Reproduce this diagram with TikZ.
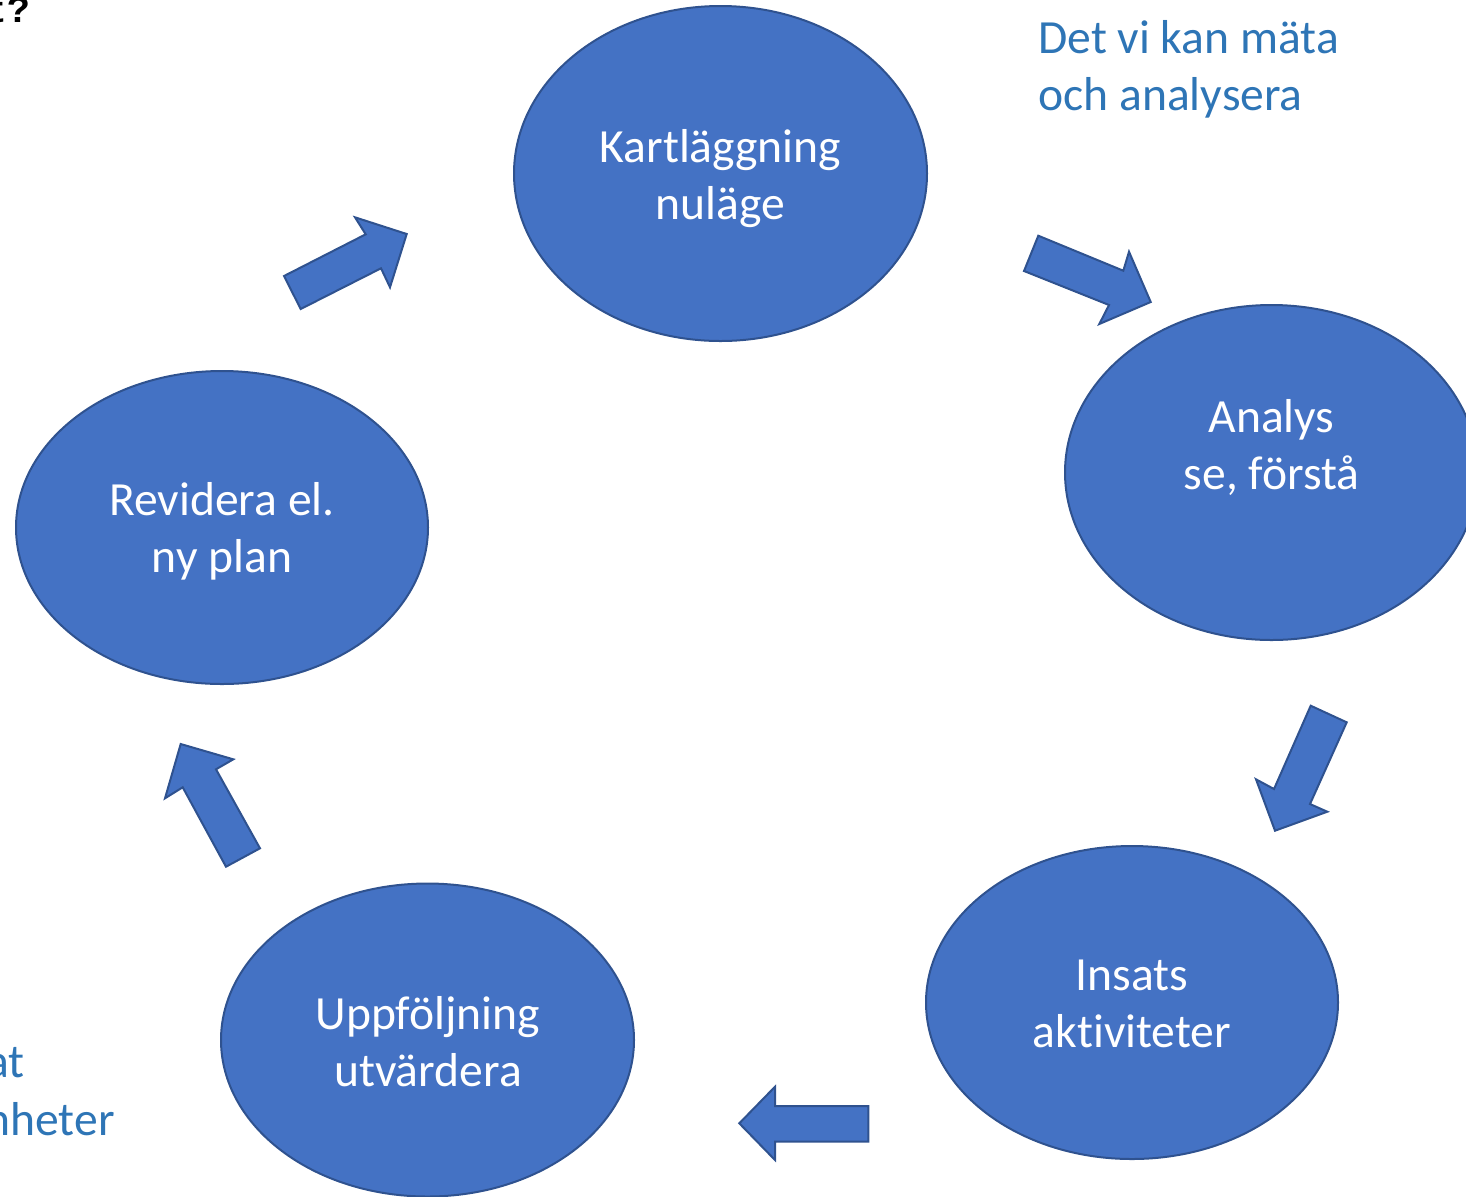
\documentclass[tikz,border=0pt]{standalone}
\usepackage{fontspec}
\setmainfont{Carlito}[RawFeature={-liga;-clig;-calt;-dlig}]
\newfontfamily\monofnt{Liberation Mono}
\usetikzlibrary{shapes.geometric}
\definecolor{bfill}{HTML}{4472C4}
\definecolor{bline}{HTML}{2F528F}
\definecolor{btext}{HTML}{2E75B6}
\tikzset{
  bubble/.style={ellipse, fill=bfill, draw=bline, line width=1pt, inner sep=0pt},
  intext/.style={text=white, align=center, font=\fontsize{23.8}{28.5}\selectfont, inner sep=0pt},
  note/.style={text=btext, align=left, font=\fontsize{23.8}{28.5}\selectfont, inner sep=0pt},
  blockarrow/.style={fill=bfill, draw=bline, line width=1pt, line join=miter}
}
\begin{document}
\begin{tikzpicture}[x=0.5pt,y=-0.5pt]
\useasboundingbox (0,0) rectangle (1466,1196);
% ellipses
\node[bubble, minimum width=206.5pt, minimum height=167.5pt] (kart) at (720.5,173.5) {};
\node[bubble, minimum width=206.5pt, minimum height=167.5pt] (anal) at (1271.5,472.5) {};
\node[bubble, minimum width=206pt, minimum height=156.5pt] (insa) at (1132,1002.5) {};
\node[bubble, minimum width=206.5pt, minimum height=156.5pt] (uppf) at (427.5,1040) {};
\node[bubble, minimum width=206pt, minimum height=156.5pt] (revi) at (222,527.5) {};
% texts in ellipses
\node[intext] (tkart) at (720.5,179) {Kartläggning\\nuläge};
\node[intext] (tanal) at (1271.5,448) {Analys\\se, förstå};
\node[intext] (tinsa) at (1132,1004) {Insats\\akt\kern0pt iviteter};
\node[intext] (tuppf) at (428,1042) {Uppföljning\\utvärdera};
\node[intext] (trevi) at (222,531) {Revidera el.\\ny plan};
% notes
\node[note, anchor=north west] (nmat) at (1038,20) {Det vi kan mäta\\och analysera};
\node[note, anchor=base east] (nat) at (25,1077) {at};
\node[note, anchor=base east] (nhet) at (115,1135) {nheter};
\node[anchor=base east, inner sep=0pt, font=\monofnt\bfseries\fontsize{19}{22}\selectfont] (tq) at (31,22) {t?};
% block arrows
\draw[blockarrow] (284,276) -- (365.7,234.3) -- (355,217.3) -- (406.7,234) -- (390,287.3) -- (381,268.3) -- (300.7,309) -- cycle;
\draw[blockarrow] (1038.3,235.7) -- (1123.3,270.7) -- (1129,251.7) -- (1150.7,302) -- (1099.3,324) -- (1109,305) -- (1024,271) -- cycle;
\draw[blockarrow] (1310.7,705.7) -- (1346.7,722.3) -- (1310,804) -- (1327.3,811.7) -- (1275,830.7) -- (1256,779.3) -- (1274,789) -- cycle;
\draw[blockarrow] (868.3,1106) -- (868.3,1141.7) -- (775,1141.7) -- (775,1160) -- (739.3,1123.3) -- (775,1086.7) -- (775,1106) -- cycle;
\draw[blockarrow] (260,848.3) -- (226,866.7) -- (182.7,787.3) -- (165,798.3) -- (180.7,744) -- (233.3,759.3) -- (216,769.3) -- cycle;
\end{tikzpicture}
\end{document}
